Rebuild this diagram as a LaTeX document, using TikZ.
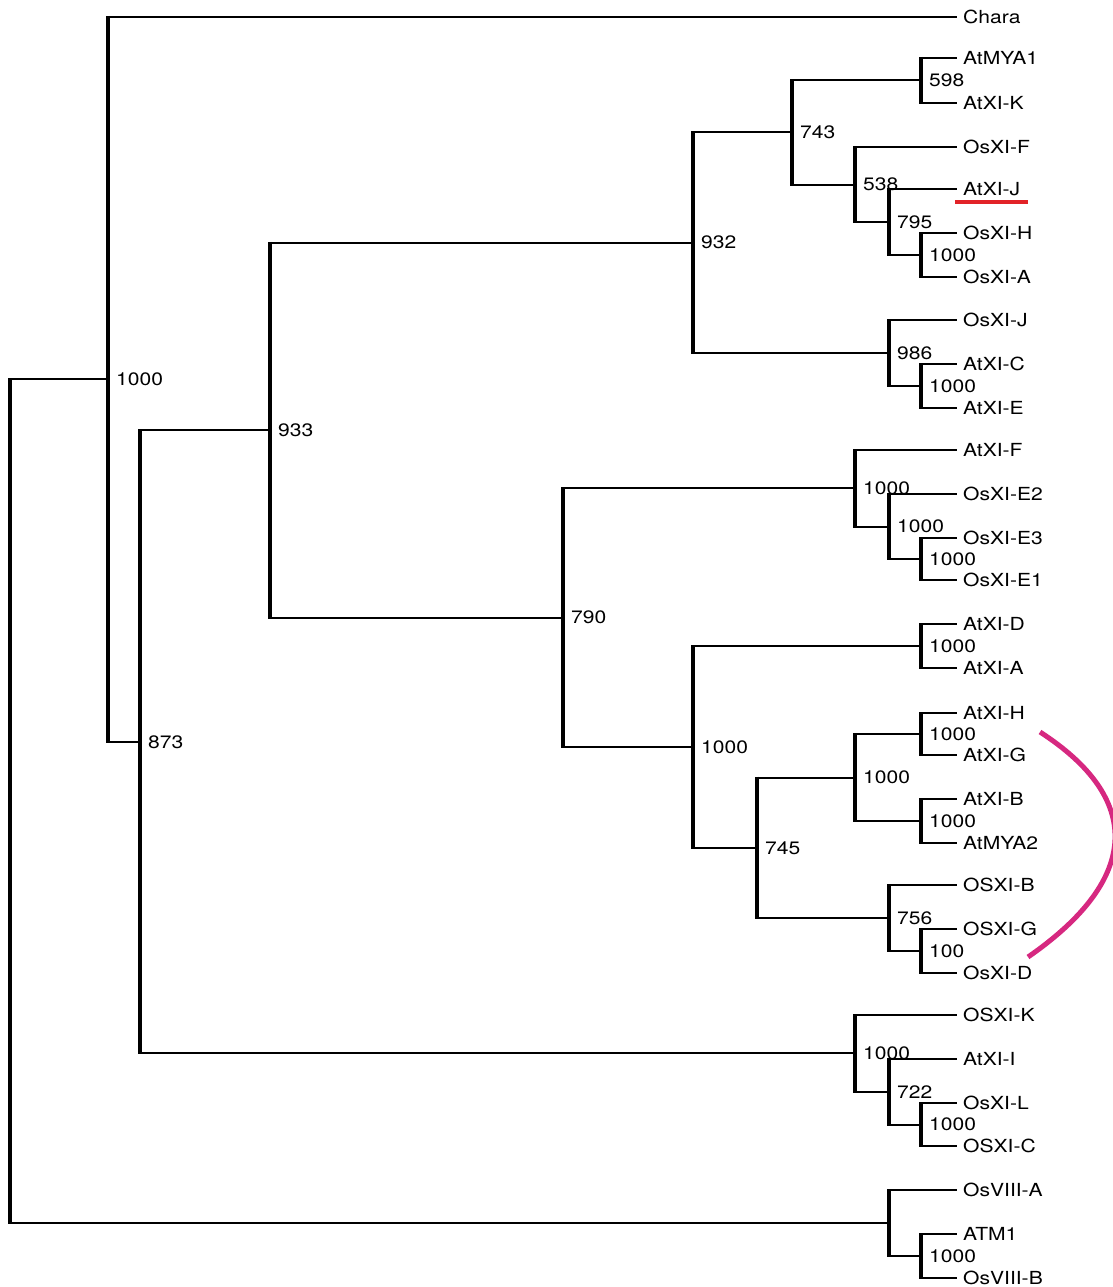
\documentclass[tikz,border=0pt]{standalone}
\usepackage{fontspec}
\setmainfont[FakeStretch=1.17]{TeX Gyre Heros}
\usepackage{xcolor}
\usepackage{tikz}
\usetikzlibrary{calc}
\usetikzlibrary{positioning}
\tikzset{
  % Common styles for the tree
  hbar/.style={draw, line width=2pt},
  vbar/.style={draw, line width=4pt, shorten <=-1pt, shorten >=-1pt},
  leaf/.style={anchor=west, inner xsep=6pt, inner ysep=0pt, font=\fontsize{18}{21}\selectfont},
  boot/.style={anchor=west, inner sep=0pt, xshift=8pt, font=\fontsize{18}{21}\selectfont}
}
\definecolor{markred}{RGB}{226,35,40}
\definecolor{markpink}{RGB}{214,40,128}

% join two children (#3, #4) in a clade #1 at x = #2, bootstrap value #5
\newcommand{\clade}[5]{%
  \path let \p1 = ($(#3)!0.5!(#4)$) in (#2pt,\y1) coordinate (#1);
  \draw[hbar] (#1 |- #3) -- (#3);
  \draw[hbar] (#1 |- #4) -- (#4);
  \draw[vbar] (#1 |- #3) -- (#1 |- #4);
  \if\relax\detokenize{#5}\relax\else
    \node[boot] (#1-val) at (#1) {#5};
  \fi
}

\begin{document}
\begin{tikzpicture}[x=1pt, y=-1pt]
    % Define styles
    \tikzstyle{underline} = [draw=markred, line width=3.5pt]
    \tikzstyle{bracket} = [draw=markpink, line width=5pt]
    \useasboundingbox (0,0) rectangle (1113,1287);

    % Place leaves
    \node [leaf] (chara) at (957,17) {Chara};
    \node [leaf] (atmya1) at (957,58) {AtMYA1};
    \node [leaf] (atxik) at (957,103) {AtXI-K};
    \node [leaf] (osxif) at (957,147) {OsXI-F};
    \node [leaf] (atxij) at (957,189) {AtXI-J};
    \node [leaf] (osxih) at (957,233) {OsXI-H};
    \node [leaf] (osxia) at (957,277) {OsXI-A};
    \node [leaf] (osxij) at (957,320) {OsXI-J};
    \node [leaf] (atxic) at (957,364) {AtXI-C};
    \node [leaf] (atxie) at (957,408) {AtXI-E};
    \node [leaf] (atxif) at (957,450) {AtXI-F};
    \node [leaf] (osxie2) at (957,494) {OsXI-E2};
    \node [leaf] (osxie3) at (957,538) {OsXI-E3};
    \node [leaf] (osxie1) at (957,580) {OsXI-E1};
    \node [leaf] (atxid) at (957,624) {AtXI-D};
    \node [leaf] (atxia) at (957,668) {AtXI-A};
    \node [leaf] (atxih) at (957,713) {AtXI-H};
    \node [leaf] (atxig) at (957,755) {AtXI-G};
    \node [leaf] (atxib) at (957,799) {AtXI-B};
    \node [leaf] (atmya2) at (957,843) {AtMYA2};
    \node [leaf] (osxib) at (957,885) {OSXI-B};
    \node [leaf] (osxig) at (957,929) {OSXI-G};
    \node [leaf] (osxid) at (957,973) {OsXI-D};
    \node [leaf] (osxik) at (957,1015) {OSXI-K};
    \node [leaf] (atxii) at (957,1059) {AtXI-I};
    \node [leaf] (osxil) at (957,1103) {OsXI-L};
    \node [leaf] (osxic) at (957,1146) {OSXI-C};
    \node [leaf] (osviiia) at (957,1190) {OsVIII-A};
    \node [leaf] (atm1) at (957,1234) {ATM1};
    \node [leaf] (osviiib) at (957,1278) {OsVIII-B};

    % Draw clades
    \clade{c598}{921}{atmya1}{atxik}{598}
    \clade{c1000a}{921}{osxih}{osxia}{1000}
    \clade{c795}{889}{atxij}{c1000a}{795}
    \clade{c538}{855}{osxif}{c795}{538}
    \clade{c743}{792}{c598}{c538}{743}
    \clade{c1000b}{921}{atxic}{atxie}{1000}
    \clade{c986}{889}{osxij}{c1000b}{986}
    \clade{c932}{693}{c743}{c986}{932}
    \clade{c1000c}{921}{osxie3}{osxie1}{1000}
    \clade{c1000d}{889}{osxie2}{c1000c}{1000}
    \clade{c1000e}{855}{atxif}{c1000d}{1000}
    \clade{c1000f}{921}{atxid}{atxia}{1000}
    \clade{c1000g}{921}{atxih}{atxig}{1000}
    \clade{c1000h}{921}{atxib}{atmya2}{1000}
    \clade{c1000i}{855}{c1000g}{c1000h}{1000}
    \clade{c100}{921}{osxig}{osxid}{100}
    \clade{c756}{889}{osxib}{c100}{756}
    \clade{c745}{757}{c1000i}{c756}{745}
    \clade{c1000j}{693}{c1000f}{c745}{1000}
    \clade{c790}{563}{c1000e}{c1000j}{790}
    \clade{c933}{270}{c932}{c790}{933}
    \clade{c1000k}{921}{osxil}{osxic}{1000}
    \clade{c722}{889}{atxii}{c1000k}{722}
    \clade{c1000l}{855}{osxik}{c722}{1000}
    \clade{c873}{140}{c933}{c1000l}{873}
    \clade{c1000m}{108}{chara}{c873}{1000}
    \clade{c1000n}{921}{atm1}{osviiib}{1000}
    \clade{cviii}{889}{osviiia}{c1000n}{}
    \clade{root}{10}{c1000m}{cviii}{}

    % Marks
    \path [underline] ([shift={(-2,13)}]atxij.west) -- ([shift={(2,13)}]atxij.east);
    \coordinate (arctop) at (1040,732);
    \coordinate (arcbot) at (1028,957);
    \path [bracket] (arctop) .. controls (1142,798) and (1142,878) .. (arcbot);
\end{tikzpicture}
\end{document}
